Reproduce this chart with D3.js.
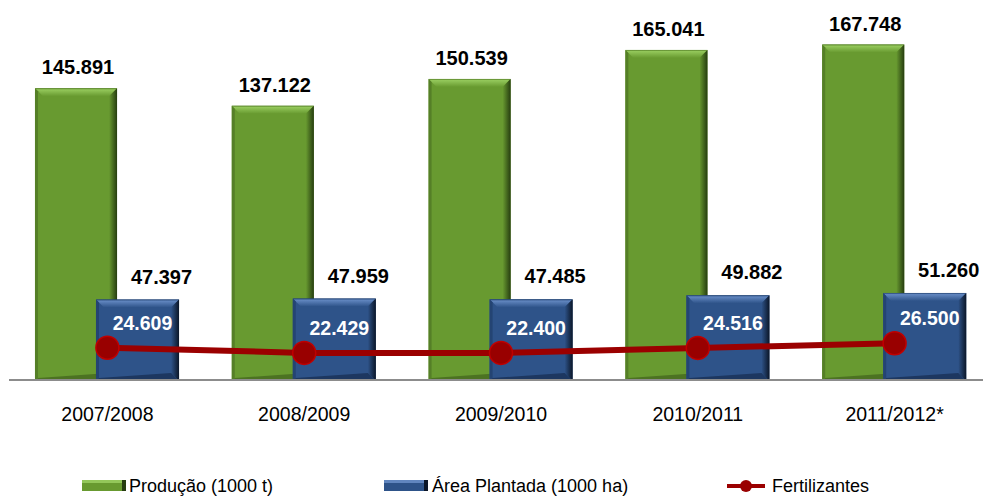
<!DOCTYPE html>
<html>
<head>
<meta charset="utf-8">
<script src="https://cdn.jsdelivr.net/npm/d3@7"></script>
<style>
  body { margin: 0; background: #fff; }
  svg { display: block; font-family: "Liberation Sans", Arial, sans-serif; }
</style>
</head>
<body>
<div id="vis"></div>
<script>
// data
var safras = ["2007/2008", "2008/2009", "2009/2010", "2010/2011", "2011/2012*"];
var producao = [145.891, 137.122, 150.539, 165.041, 167.748];      // 1000 t
var areaPlantada = [47.397, 47.959, 47.485, 49.882, 51.260];       // 1000 ha
var fertilizantes = [24.609, 22.429, 22.400, 24.516, 26.500];
var legendLabels = ["Produção (1000 t)", "Área Plantada (1000 ha)", "Fertilizantes"];

var width = 983;
var height = 497;
var baseY = 380;

var fmt = function (v) { return v.toFixed(3); };

var svg = d3.select('#vis').append('svg')
  .attr('width', width)
  .attr('height', height);

var defs = svg.append('defs');

var x = d3.scaleBand()
  .domain(safras)
  .range([9, 993])
  .padding(0);

// three separate value axes, none drawn (as in the original)
var yProd = d3.scaleLinear().domain([0, 180]).range([baseY, 20]);
var yArea = d3.scaleLinear().domain([0, 212]).range([baseY, 20]);
var yFert = d3.scaleLinear().domain([0, 152]).range([406, 46]);

var bw = x.bandwidth();
var green = { id: 'g', off: 0.132, w: 0.417, main: '#689a30', top: '#93c75a', left: '#557f27', right: '#263d10', bottom: '#4c7222' };
var blue = { id: 'b', off: 0.442, w: 0.422, main: '#2e5389', top: '#6186bf', left: '#244473', right: '#0b1628', bottom: '#1d3760' };

// gradients for the right edge and top edge
[green, blue].forEach(function (st) {
  var gr = defs.append('linearGradient').attr('id', 'right-' + st.id)
    .attr('x1', 0).attr('x2', 1).attr('y1', 0).attr('y2', 0);
  gr.append('stop').attr('offset', 0).attr('stop-color', st.main);
  gr.append('stop').attr('offset', 1).attr('stop-color', st.right);
  var gt = defs.append('linearGradient').attr('id', 'top-' + st.id)
    .attr('x1', 0).attr('x2', 0).attr('y1', 0).attr('y2', 1);
  gt.append('stop').attr('offset', 0).attr('stop-color', st.left);
  gt.append('stop').attr('offset', 0.2).attr('stop-color', st.top);
  gt.append('stop').attr('offset', 1).attr('stop-color', st.main);
});

// bevelled bar like the office "3D" preset
function drawBars(values, yScale, st, cls) {
  var g = svg.append('g').attr('class', cls);
  values.forEach(function (v, i) {
    var bx = x(safras[i]) + bw * st.off;
    var w = bw * st.w;
    var by = yScale(v);
    var h = baseY + 1 - by;
    var b = 8;
    var bar = g.append('g');
    bar.append('rect')
      .attr('x', bx).attr('y', by)
      .attr('width', w).attr('height', h)
      .attr('fill', st.main);
    // top
    bar.append('polygon')
      .attr('points', [[bx, by], [bx + w, by], [bx + w - b, by + b], [bx + b, by + b]].join(' '))
      .attr('fill', 'url(#top-' + st.id + ')');
    // left
    bar.append('polygon')
      .attr('points', [[bx, by], [bx + 3, by + 3], [bx + 3, by + h - 3], [bx, by + h]].join(' '))
      .attr('fill', st.left);
    // right
    bar.append('polygon')
      .attr('points', [[bx + w, by], [bx + w, by + h], [bx + w - b, by + h - b], [bx + w - b, by + b]].join(' '))
      .attr('fill', 'url(#right-' + st.id + ')');
    // bottom
    bar.append('polygon')
      .attr('points', [[bx, by + h], [bx + w, by + h], [bx + w - b, by + h - b], [bx + 3, by + h - 3]].join(' '))
      .attr('fill', st.bottom);
  });
}

drawBars(producao, yProd, green, 'producao');
drawBars(areaPlantada, yArea, blue, 'area');

// axis line
svg.append('line')
  .attr('x1', 9).attr('x2', width)
  .attr('y1', baseY).attr('y2', baseY)
  .attr('stroke', '#8c8c8c')
  .attr('stroke-width', 2);

// fertilizantes line
var line = d3.line()
  .x(function (d, i) { return x(safras[i]) + bw / 2; })
  .y(function (d) { return yFert(d); });

svg.append('path')
  .datum(fertilizantes)
  .attr('d', line)
  .attr('fill', 'none')
  .attr('stroke', '#9b0000')
  .attr('stroke-width', 6);

svg.selectAll('.ponto')
  .data(fertilizantes)
  .enter().append('circle')
  .attr('class', 'ponto')
  .attr('cx', function (d, i) { return x(safras[i]) + bw / 2; })
  .attr('cy', function (d) { return yFert(d); })
  .attr('r', 11.5)
  .attr('fill', '#990000')
  .attr('stroke', '#c00000')
  .attr('stroke-width', 1.5);

// labels
svg.selectAll('.lblProd')
  .data(producao)
  .enter().append('text')
  .attr('x', function (d, i) { return x(safras[i]) + bw * (green.off + green.w / 2) + 2; })
  .attr('y', function (d) { return yProd(d) - 14; })
  .attr('text-anchor', 'middle')
  .attr('font-size', 20)
  .attr('font-weight', 'bold')
  .attr('fill', '#000')
  .text(fmt);

svg.selectAll('.lblArea')
  .data(areaPlantada)
  .enter().append('text')
  .attr('x', function (d, i) { return x(safras[i]) + bw * (blue.off + blue.w / 2) + 24; })
  .attr('y', function (d) { return yArea(d) - 16; })
  .attr('text-anchor', 'middle')
  .attr('font-size', 20)
  .attr('font-weight', 'bold')
  .attr('fill', '#000')
  .text(fmt);

svg.selectAll('.lblFert')
  .data(fertilizantes)
  .enter().append('text')
  .attr('x', function (d, i) { return x(safras[i]) + bw * (blue.off + blue.w / 2) + 5; })
  .attr('y', function (d) { return yFert(d) - 18; })
  .attr('text-anchor', 'middle')
  .attr('font-size', 19.5)
  .attr('font-weight', 'bold')
  .attr('fill', '#fff')
  .text(fmt);

// category labels
svg.selectAll('.cat')
  .data(safras)
  .enter().append('text')
  .attr('x', function (d) { return x(d) + bw / 2; })
  .attr('y', 421)
  .attr('text-anchor', 'middle')
  .attr('font-size', 19.5)
  .attr('fill', '#000')
  .text(function (d) { return d; });

// legend
var legend = svg.append('g').attr('class', 'legend');
var legY = 486;

function legendBar(lx, st) {
  legend.append('rect')
    .attr('x', lx).attr('y', legY - 6)
    .attr('width', 44).attr('height', 11)
    .attr('fill', st.main);
  legend.append('rect')
    .attr('x', lx).attr('y', legY - 6)
    .attr('width', 44).attr('height', 3)
    .attr('fill', st.top);
  legend.append('rect')
    .attr('x', lx + 40).attr('y', legY - 6)
    .attr('width', 4).attr('height', 11)
    .attr('fill', st.right);
}

legendBar(82, green);
legendBar(384, blue);

legend.append('line')
  .attr('x1', 727).attr('x2', 765)
  .attr('y1', legY).attr('y2', legY)
  .attr('stroke', '#9b0000')
  .attr('stroke-width', 4);
legend.append('circle')
  .attr('cx', 746).attr('cy', legY)
  .attr('r', 6)
  .attr('fill', '#990000');

legend.selectAll('text')
  .data(legendLabels)
  .enter().append('text')
  .attr('x', function (d, i) { return [129, 432, 772][i]; })
  .attr('y', legY + 6)
  .attr('font-size', 18)
  .attr('fill', '#000')
  .text(function (d) { return d; });
</script>
</body>
</html>
